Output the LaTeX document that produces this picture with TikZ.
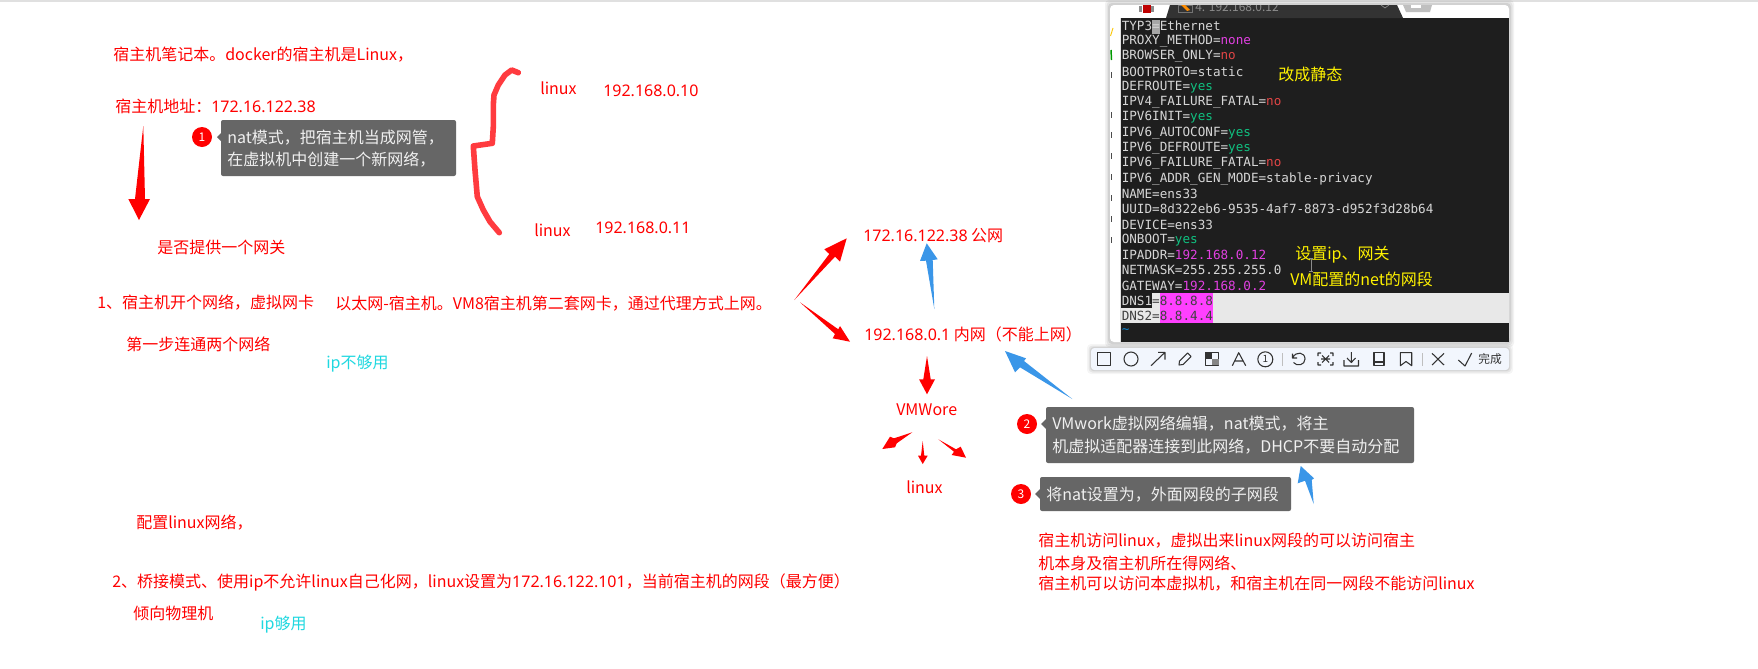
\documentclass[tikz,border=0pt]{standalone}
\usepackage{fontspec}
\setmainfont{Noto Sans CJK SC}
\newfontfamily\termfont{DejaVu Sans Mono}
\newfontfamily\ipfont{Noto Sans}
\usetikzlibrary{calc}
\definecolor{redtx}{HTML}{FF0000}
\definecolor{cyantx}{HTML}{1FD8E0}
\definecolor{bluearrow}{HTML}{3A96E8}
\definecolor{brace}{HTML}{FF3B3F}
\definecolor{callout}{HTML}{666666}
\definecolor{termbg}{HTML}{1E1E1E}
\definecolor{termfg}{HTML}{D6D6D6}
\definecolor{magtx}{HTML}{E040E0}
\definecolor{notx}{HTML}{E04545}
\definecolor{yestx}{HTML}{10C080}
\definecolor{hilite}{HTML}{FF40FF}
\definecolor{toolbg}{HTML}{F2F6FD}
\definecolor{iconc}{HTML}{333333}
\newcommand{\tmag}[1]{\textcolor{magtx}{#1}}
\newcommand{\tno}[1]{\textcolor{notx}{#1}}
\newcommand{\tyes}[1]{\textcolor{yestx}{#1}}
\newcommand{\tline}[2]{\node[termline] (term#1) at (1121.5,{26+15.27*#1}) {#2};}
\tikzset{
  txt/.style={anchor=west,inner sep=0pt,font=\fontsize{12}{14}\selectfont},
  redtext/.style={txt,text=redtx},
  cyantext/.style={txt,text=cyantx},
  yellowtext/.style={txt,text=yellow},
  whitetext/.style={txt,text=white!94!black},
  termline/.style={anchor=west,inner sep=0pt,text=termfg,font=\termfont\fontsize{9.47}{11}\selectfont},
  badge/.style={circle,fill=redtx,text=white,inner sep=0pt,minimum size=15pt,font=\fontsize{9}{10}\selectfont},
  calloutbox/.style={fill=callout,rounded corners=1.5pt},
  redfat/.style={fill=redtx},
  bluefat/.style={fill=bluearrow},
  icon/.style={draw=iconc,line width=0.8pt,line join=round},
}
\begin{document}
\begin{tikzpicture}[x=0.75pt,y=-0.75pt]
\useasboundingbox (0,0) rectangle (1758,668);
\fill[white] (0,0) rectangle (1758,668);
\fill[black!12] (0,0) rectangle (1758,2);

% left texts
\node[redtext] (t1) at (113,55) {宿主机笔记本。docker的宿主机是Linux，};
\node[redtext] (t2) at (115,106) {宿主机地址：{\ipfont 172.16.122.38}};
\fill[redfat] (143.3,126) -- (145,199) -- (150,199) -- (139,220) -- (128.3,199) -- (135,199) -- cycle;
\node[redtext] (t3) at (157,247) {是否提供一个网关};
\node[redtext] (t4) at (97,303) {1、宿主机开个网络，虚拟网卡};
\node[redtext] (t5) at (335,304) {以太网-宿主机。VM8宿主机第二套网卡，通过代理方式上网。};
\node[redtext] (t6) at (126,344) {第一步连通两个网络};
\node[cyantext] (t7) at (326,364) {ip不够用};
\node[redtext] (t8) at (136,523) {配置linux网络，};
\node[redtext] (t9) at (112,582) {2、桥接模式、使用ip不允许linux自己化网，linux设置为{\ipfont 172.16.122.101}，当前宿主机的网段（最方便）};
\node[redtext] (t10) at (133,613) {倾向物理机};
\node[cyantext] (t11) at (260,625) {ip够用};

% callout 1
\node[badge] (b1) at (202,137) {1};
\fill[callout] (217,137) -- (222,132) -- (222,142) -- cycle;
\fill[calloutbox] (221,120) rectangle (456,176);
\node[whitetext] (c1a) at (227,138) {nat模式，把宿主机当成网管，};
\node[whitetext] (c1b) at (227,160) {在虚拟机中创建一个新网络，};

% brace
\draw[brace,line width=4.2pt,line cap=round,line join=round]
  (518.3,72.7) -- (511.7,70) -- (505,75) -- (498.3,85) -- (494,95) -- (493.3,105) -- (493.3,126.7)
  -- (492.3,143.3) -- (473.3,146) -- (475,170) -- (477.3,196.7) -- (483.3,210) -- (490,221.7) -- (499.3,232.7);
\node[redtext] (l1) at (540,88) {linux};
\node[redtext,font=\ipfont\fontsize{12}{14}\selectfont] (ip1) at (603,91) {192.168.0.10};
\node[redtext] (l2) at (534,230) {linux};
\node[redtext,font=\ipfont\fontsize{12}{14}\selectfont] (ip2) at (595,228) {192.168.0.11};

% centre
\node[redtext] (pub) at (863,236) {{\ipfont 172.16.122.38} 公网};
\node[redtext] (pri) at (864,334) {{\ipfont 192.168.0.1} 内网（不能上网）};
\node[redtext] (vm) at (896,410) {VMWore};
\node[redtext] (lx) at (906,487) {linux};
\fill[redfat] (794.3,300) -- (829.3,254) -- (824.3,249.3) -- (846.7,238.3) -- (840,261.7) -- (835,256.7) -- cycle;
\fill[redfat] (800,302.3) -- (838.3,329.3) -- (840,326) -- (850,341.7) -- (832.7,338.3) -- (835,334) -- cycle;
\fill[bluefat] (934.3,309) -- (932.7,260) -- (937.7,259.3) -- (926.7,243.3) -- (920,261) -- (926,260.7) -- cycle;
\fill[redfat] (927,356) -- (930.7,379.3) -- (935,379.3) -- (927,394.3) -- (919,379.3) -- (923.3,379.3) -- cycle;
\fill[redfat] (912.3,432.3) -- (894,438.3) -- (890,436.7) -- (882.3,449) -- (895,447.3) -- (896.7,443.3) -- cycle;
\fill[redfat] (922.7,441) -- (924.3,455.7) -- (927.7,455.7) -- (922.7,464) -- (918,455.7) -- (921,455.7) -- cycle;
\fill[redfat] (938.3,439.3) -- (956,449.3) -- (960.7,446.7) -- (966,457.7) -- (951.7,455) -- (954,451.7) -- cycle;

% terminal window
\foreach \g/\o in {5/0.05,3.5/0.06,2/0.08}{
  \fill[black,opacity=\o,rounded corners=3pt] (1110-\g,5-\g) rectangle (1509+\g,342+\g);
}
\fill[white,rounded corners=3pt] (1110,5) rectangle (1509,342);
\fill[termbg] (1120.7,18) rectangle (1509,342);
\fill[black!80!white] (1170,5) -- (1397,5) -- (1403,18) -- (1120.7,18) -- (1166,18) -- cycle;
\fill[black!12!white] (1120,18) rectangle (1120.7,342);
\fill[black!25] (1403,5) -- (1432,5) -- (1430,12) -- (1406,12) -- cycle;
\fill[white] (1411,5) rectangle (1421,8);
\fill[red!75!black] (1143,5) rectangle (1151,13);
\fill[black!45] (1151,6) rectangle (1154,12);
\fill[black!45] (1139,6) rectangle (1142,12);
\draw[black!55,line width=0.6pt] (1178,5) rectangle (1192,12);
\fill[orange!90!yellow] (1181,5) -- (1185,5) -- (1190,10) -- (1187,11) -- cycle;
\begin{scope}
\clip (1170,5) rectangle (1397,18);
\node[txt,text=black!45,font=\fontsize{9}{11}\selectfont] (title) at (1195,7) {4. 192.168.0.12};
\end{scope}
\draw[black!45,line width=0.5pt] (1381,5) -- (1385,8) (1389,5) -- (1385,8);
% left strip marks
\draw[green!60!black,line width=1.1pt] (1111,50) -- (1111.5,60);
\draw[yellow!60!orange,line width=0.7pt] (1110.5,36) -- (1113,28);
\foreach \yy in {75,115,135,156,177,198,219,240}{
  \draw[black!70,line width=0.6pt] (1111.5,\yy-3) -- (1111.5,\yy+3);
}
% selection
\fill[black!9] (1121,293) rectangle (1509,323);
\fill[termbg] (1121,293) rectangle (1152,308);
\fill[hilite] (1160,293) rectangle (1212.7,323);
\fill[black!35] (1151.7,20) rectangle (1159.5,33.5);

\tline{0}{TYP3=Ethernet}
\tline{1}{PROXY\_METHOD=\tmag{none}}
\tline{2}{BROWSER\_ONLY=\tno{no}}
\tline{3}{BOOTPROTO=static}
\tline{4}{DEFROUTE=\tyes{yes}}
\tline{5}{IPV4\_FAILURE\_FATAL=\tno{no}}
\tline{6}{IPV6INIT=\tyes{yes}}
\tline{7}{IPV6\_AUTOCONF=\tyes{yes}}
\tline{8}{IPV6\_DEFROUTE=\tyes{yes}}
\tline{9}{IPV6\_FAILURE\_FATAL=\tno{no}}
\tline{10}{IPV6\_ADDR\_GEN\_MODE=stable-privacy}
\tline{11}{NAME=ens33}
\tline{12}{UUID=8d322eb6-9535-4af7-8873-d952f3d28b64}
\tline{13}{DEVICE=ens33}
\tline{14}{ONBOOT=\tyes{yes}}
\tline{15}{IPADDR=\tmag{192.168.0.12}}
\tline{16}{NETMASK=255.255.255.0}
\tline{17}{GATEWAY=\tmag{192.168.0.2}}
\tline{18}{DNS1\textcolor{black!75}{=8.8.8.8}}
\tline{19}{\textcolor{black!75}{DNS2=8.8.4.4}}
\tline{20}{\textcolor{cyan!70!blue}{\textasciitilde}}

\node[yellowtext] (y1) at (1278,74) {改成静态};
\node[yellowtext] (y2) at (1295,255) {设置ip、网关};
\node[yellowtext] (y3) at (1290,279) {VM配置的net的网段};
\draw[black!45,line width=0.5pt] (1311,258) -- (1311,271) (1309,258) -- (1313,258) (1309,271) -- (1313,271);

% toolbar
\foreach \g/\o in {4/0.04,2.5/0.06,1.2/0.08}{
  \fill[black,opacity=\o,rounded corners=3pt] (1091-\g,348-\g) rectangle (1509+\g,370+\g);
}
\fill[toolbg,rounded corners=2.5pt] (1091,348) rectangle (1509,370);
\draw[icon] (1097.3,352.7) rectangle (1110.7,365.3);
\draw[icon] (1131,359) circle (7);
\draw[icon] (1151,365.7) -- (1165,352.3) (1158,352.3) -- (1165,352.3) -- (1165,359.5);
\draw[icon] (1179,365) -- (1179.5,361) -- (1187.5,353) -- (1191,356.5) -- (1183,364.5) -- cycle;
\draw[icon] (1205.3,352.7) rectangle (1218.7,365.3);
\fill[iconc] (1205.3,352.7) rectangle (1212,359);
\fill[iconc!60!white] (1212,359) rectangle (1218.7,365.3);
\draw[icon] (1232.3,365.7) -- (1238.7,352.7) -- (1245.7,365.7) (1234.5,361) -- (1243,361);
\draw[icon] (1265.3,359.3) circle (7.5);
\node[inner sep=0pt,text=iconc,font=\fontsize{7.5}{9}\selectfont] (num) at (1265.3,359.3) {1};
\draw[black!25,line width=0.6pt] (1282.7,353) -- (1282.7,365.5) (1422.7,353) -- (1422.7,365.5);
\draw[icon] (1292.5,353.5) -- (1292.5,358) -- (1297,358) (1292.8,357.5) .. controls (1296,351) and (1305,352) .. (1305,359) .. controls (1305,365) and (1297,367) .. (1293.5,362.5);
\draw[icon] (1321,353) -- (1318,353) -- (1318,356) (1330,353) -- (1333,353) -- (1333,356) (1318,362) -- (1318,365) -- (1321,365) (1333,362) -- (1333,365) -- (1330,365) (1322,355.5) -- (1329,362.5) (1329,355.5) -- (1322,362.5) (1321,359) -- (1330,359);
\draw[icon] (1344,360) -- (1344,366) -- (1358.5,366) -- (1358.5,360) (1351.3,352) -- (1351.3,362) (1347,358) -- (1351.3,362.5) -- (1355.5,358);
\draw[icon] (1374,352.7) rectangle (1384,365.7) (1374,362) -- (1384,362);
\draw[icon] (1400.3,352.7) -- (1411.7,352.7) -- (1411.7,365.7) -- (1406,361.5) -- (1400.3,365.7) -- cycle;
\draw[icon] (1432,353.3) -- (1444,365) (1444,353.3) -- (1432,365);
\draw[icon] (1458.3,360) -- (1465,366) -- (1471.7,353);
\node[anchor=west,inner sep=0pt,text=iconc,font=\fontsize{8.8}{10}\selectfont] (done) at (1478,359) {完成};

% callout 2
\fill[bluefat] (1072.3,399) -- (1024,361) -- (1026,358.3) -- (1005,351) -- (1015,372.3) -- (1020,367.3) -- cycle;
\node[badge] (b2) at (1027,424) {2};
\fill[callout] (1041,424) -- (1046,419) -- (1046,429) -- cycle;
\fill[calloutbox] (1046,407) rectangle (1414,463);
\node[whitetext] (c2a) at (1052,424) {VMwork虚拟网络编辑，nat模式，将主};
\node[whitetext] (c2b) at (1052,447) {机虚拟适配器连接到此网络，DHCP不要自动分配};

% callout 3
\fill[bluefat] (1313.7,504) -- (1311.7,480) -- (1314,478.3) -- (1300.7,466) -- (1297.7,483.3) -- (1305,480.7) -- cycle;
\node[badge] (b3) at (1021,494) {3};
\fill[callout] (1035,494) -- (1040,489) -- (1040,499) -- cycle;
\fill[calloutbox] (1040,477) rectangle (1291,511);
\node[whitetext] (c3) at (1046,495) {将nat设置为，外面网段的子网段};

\node[redtext] (r1) at (1038,541) {宿主机访问linux，虚拟出来linux网段的可以访问宿主};
\node[redtext] (r2) at (1038,563) {机本身及宿主机所在得网络、};
\node[redtext] (r3) at (1038,584) {宿主机可以访问本虚拟机，和宿主机在同一网段不能访问linux};
\end{tikzpicture}
\end{document}
